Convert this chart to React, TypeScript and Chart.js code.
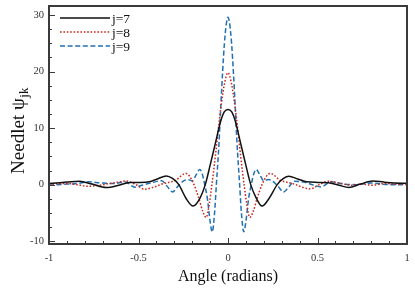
import { useEffect, useRef } from 'react';
import { Chart, registerables } from 'chart.js';

Chart.register(...registerables);

const SERIES_LABELS = ['j=7', 'j=8', 'j=9'];
const X_TICKS = [-1, -0.5, 0, 0.5, 1];
const Y_TICKS = [-10, 0, 10, 20, 30];
const X_TITLE = 'Angle (radians)';
const Y_TITLE_MAIN = 'Needlet \u03c8';
const Y_TITLE_SUB = 'jk';

const X_J7 = [-1, -0.96, -0.9, -0.83, -0.76, -0.68, -0.61, -0.55, -0.49, -0.44, -0.395, -0.345, -0.31, -0.275, -0.235, -0.195, -0.155, -0.127, -0.1, -0.07, -0.04, -0.02, 0, 0.02, 0.04, 0.07, 0.1, 0.127, 0.155, 0.19, 0.23, 0.275, 0.31, 0.34, 0.39, 0.44, 0.5, 0.56, 0.62, 0.675, 0.74, 0.81, 0.87, 0.93, 1];
const Y_J7 = [0.2, 0.3, 0.45, 0.6, 0.1, -0.5, -0.1, 0.4, 0.4, 0.5, 1.0, 1.55, 1.1, 0, -2.4, -3.8, -2.3, 0, 3.4, 7.4, 11.3, 12.9, 13.3, 12.9, 11.3, 7.4, 3.4, 0, -2.2, -3.8, -2.4, 0, 1.1, 1.5, 1.0, 0.5, 0.4, 0.35, -0.1, -0.5, 0.1, 0.65, 0.45, 0.3, 0.25];

const X_J8 = [-1, -0.95, -0.9, -0.84, -0.78, -0.72, -0.64, -0.57, -0.515, -0.465, -0.41, -0.37, -0.32, -0.29, -0.26, -0.237, -0.215, -0.19, -0.165, -0.14, -0.122, -0.105, -0.09, -0.07, -0.055, -0.04, -0.02, 0, 0.02, 0.04, 0.055, 0.07, 0.09, 0.105, 0.122, 0.14, 0.165, 0.19, 0.215, 0.237, 0.26, 0.29, 0.32, 0.37, 0.41, 0.46, 0.51, 0.56, 0.62, 0.69, 0.75, 0.8, 0.88, 0.95, 1];
const Y_J8 = [0.1, 0.15, 0.2, 0.0, -0.3, -0.1, 0.3, 0.65, 0.0, -0.8, -0.4, 0.1, 0.5, 0.8, 1.6, 2.0, 1.5, 0, -2.2, -4.8, -5.8, -3.5, 0, 5.2, 9.6, 13.6, 17.8, 19.8, 17.8, 13.6, 9.6, 5.2, 0, -3.5, -5.8, -4.8, -2.2, 0, 1.5, 2.0, 1.6, 0.8, 0.5, 0.1, -0.4, -0.75, 0, 0.6, 0.3, -0.1, 0.1, -0.1, 0.2, 0.05, 0.1];

const X_J9 = [-1, -0.95, -0.9, -0.84, -0.78, -0.71, -0.64, -0.575, -0.52, -0.48, -0.43, -0.37, -0.34, -0.31, -0.28, -0.25, -0.225, -0.2, -0.175, -0.158, -0.145, -0.13, -0.115, -0.1, -0.088, -0.075, -0.065, -0.05, -0.04, -0.03, -0.02, -0.01, 0, 0.01, 0.02, 0.03, 0.04, 0.05, 0.065, 0.075, 0.088, 0.1, 0.115, 0.13, 0.145, 0.158, 0.175, 0.2, 0.225, 0.25, 0.28, 0.31, 0.34, 0.37, 0.43, 0.48, 0.52, 0.575, 0.65, 0.72, 0.8, 0.9, 1];
const Y_J9 = [-0.1, 0.0, 0.1, 0.2, 0.5, 0.3, 0.2, 0.45, -0.45, -0.1, 0.3, 0.7, -0.3, -1.3, -0.3, 0.6, 0.9, 0.7, 1.9, 2.7, 2.0, 0, -2.5, -6.5, -8.35, -5.0, 0, 7.5, 14, 20, 25, 28.3, 29.6, 28.3, 25, 20, 14, 7.5, 0, -5.0, -8.35, -6.5, -2.5, 0, 2.0, 2.7, 1.9, 0.7, 0.9, 0.6, -0.3, -1.3, -0.4, 0.6, 0.4, -0.1, -0.4, 0.5, 0.1, 0.0, 0.3, 0.0, 0.0];

const COLORS = ['#111111', '#c8281e', '#2070b4'];
const DASHES = [[], [1.6, 1.8], [5, 2.6]];

const SERIF = '"Liberation Serif", "DejaVu Serif", serif';

const toPoints = (xs: number[], ys: number[]) => xs.map((x, i) => ({ x, y: ys[i] }));

const decorPlugin = {
  id: 'decor',
  afterDraw(chart: any) {
    const { ctx, chartArea: a, scales } = chart;
    const xs = scales.x;
    const ys = scales.y;
    ctx.save();
    ctx.strokeStyle = '#3a3a3a';
    ctx.lineWidth = 1;
    for (let i = -10; i <= 10; i++) {
      const v = i / 10;
      const px = Math.round(xs.getPixelForValue(v)) + 0.5;
      const len = i % 5 === 0 ? 6 : 3;
      ctx.beginPath();
      ctx.moveTo(px, a.bottom);
      ctx.lineTo(px, a.bottom - len);
      ctx.stroke();
    }
    for (let i = -4; i <= 12; i++) {
      const v = i * 2.5;
      if (v < ys.min || v > ys.max) continue;
      const py = Math.round(ys.getPixelForValue(v)) + 0.5;
      const len = i % 4 === 0 ? 6 : 3;
      ctx.beginPath();
      ctx.moveTo(a.left, py);
      ctx.lineTo(a.left + len, py);
      ctx.stroke();
    }
    ctx.lineWidth = 2;
    ctx.strokeRect(a.left, a.top, a.right - a.left, a.bottom - a.top);

    ctx.font = `13.5px ${SERIF}`;
    ctx.textBaseline = 'middle';
    ctx.textAlign = 'left';
    chart.data.datasets.forEach((ds: any, i: number) => {
      const ly = a.top + 12 + i * 14;
      ctx.beginPath();
      ctx.strokeStyle = ds.borderColor;
      ctx.lineWidth = ds.borderWidth;
      ctx.setLineDash(ds.borderDash || []);
      ctx.moveTo(a.left + 11, ly);
      ctx.lineTo(a.left + 61, ly);
      ctx.stroke();
      ctx.setLineDash([]);
      ctx.fillStyle = '#111';
      ctx.fillText(ds.label, a.left + 63, ly + 1);
    });

    ctx.fillStyle = '#111';
    ctx.font = `16px ${SERIF}`;
    ctx.textAlign = 'center';
    ctx.textBaseline = 'middle';
    ctx.fillText(X_TITLE, (a.left + a.right) / 2, 277);

    ctx.translate(19, 131);
    ctx.rotate(-Math.PI / 2);
    const mainFont = `19px ${SERIF}`;
    const subFont = `13px ${SERIF}`;
    ctx.font = mainFont;
    const wMain = ctx.measureText(Y_TITLE_MAIN).width;
    ctx.font = subFont;
    const wSub = ctx.measureText(Y_TITLE_SUB).width;
    const start = -(wMain + wSub) / 2;
    ctx.textAlign = 'left';
    ctx.font = mainFont;
    ctx.fillText(Y_TITLE_MAIN, start, 0);
    ctx.font = subFont;
    ctx.fillText(Y_TITLE_SUB, start + wMain + 0.5, 6);
    ctx.restore();
  },
};

export default function App() {
  const ref = useRef<HTMLCanvasElement | null>(null);
  useEffect(() => {
    if (!ref.current) return;
    const series = [
      toPoints(X_J7, Y_J7),
      toPoints(X_J8, Y_J8),
      toPoints(X_J9, Y_J9),
    ];
    const chart = new Chart(ref.current, {
      type: 'line',
      data: {
        datasets: series.map((pts, i) => ({
          label: SERIES_LABELS[i],
          data: pts,
          borderColor: COLORS[i],
          backgroundColor: COLORS[i],
          borderWidth: 1.5,
          borderDash: DASHES[i],
          pointRadius: 0,
          fill: false,
          cubicInterpolationMode: 'monotone' as const,
        })),
      },
      options: {
        animation: false,
        responsive: false,
        maintainAspectRatio: false,
        layout: { padding: { left: 8, right: 8, top: 6, bottom: 0 } },
        plugins: { legend: { display: false }, tooltip: { enabled: false } },
        scales: {
          x: {
            type: 'linear',
            min: -1,
            max: 1,
            grid: { display: false, drawTicks: false },
            border: { display: false },
            afterBuildTicks: (s: any) => {
              s.ticks = X_TICKS.map((v) => ({ value: v }));
            },
            afterFit: (s: any) => {
              s.height = 49;
              s.paddingLeft = 0;
              s.paddingRight = 0;
            },
            ticks: {
              padding: 8,
              color: '#333',
              font: { family: SERIF, size: 10.5 },
              maxRotation: 0,
              callback: (v: any) => String(v),
            },
          },
          y: {
            type: 'linear',
            min: -10.5,
            max: 31.6,
            grid: { display: false, drawTicks: false },
            border: { display: false },
            afterBuildTicks: (s: any) => {
              s.ticks = Y_TICKS.map((v) => ({ value: v }));
            },
            afterFit: (s: any) => {
              s.width = 41;
              s.paddingTop = 0;
              s.paddingBottom = 0;
            },
            ticks: {
              padding: 5,
              color: '#333',
              font: { family: SERIF, size: 10.5 },
              callback: (v: any) => String(v),
            },
          },
        },
      },
      plugins: [decorPlugin],
    });
    return () => chart.destroy();
  }, []);
  return (
    <div style={{ position: 'fixed', left: 0, top: 0, width: 415, height: 293 }}>
      <canvas ref={ref} width={415} height={293} style={{ width: 415, height: 293 }} />
    </div>
  );
}
